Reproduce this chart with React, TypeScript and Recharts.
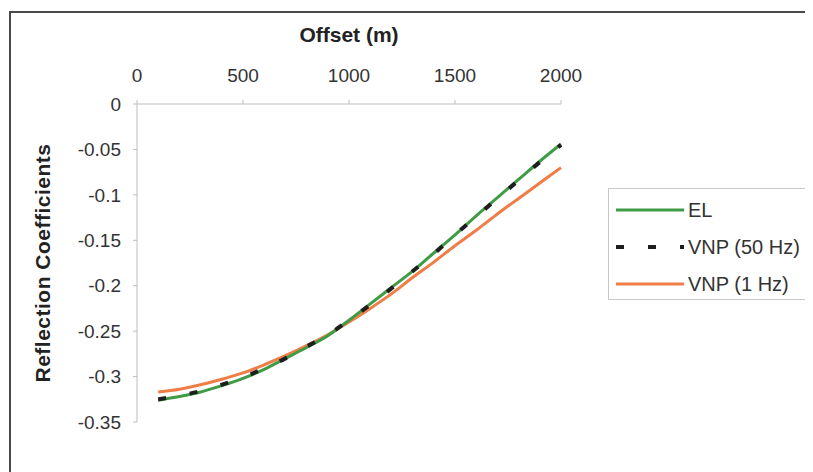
import React from "react";
import { LineChart, Line, XAxis, YAxis } from "recharts";

const offsets = [100, 200, 300, 400, 500, 600, 700, 800, 900, 1000, 1100, 1200, 1300, 1400, 1500, 1600, 1700, 1800, 1900, 2000];
const elValues = [-0.326, -0.322, -0.317, -0.31, -0.302, -0.292, -0.28, -0.268, -0.255, -0.238, -0.22, -0.202, -0.184, -0.164, -0.144, -0.123, -0.103, -0.083, -0.063, -0.044];
const vnp50Values = [-0.325, -0.321, -0.316, -0.309, -0.301, -0.291, -0.28, -0.267, -0.254, -0.238, -0.221, -0.203, -0.184, -0.165, -0.144, -0.124, -0.104, -0.084, -0.064, -0.045];
const vnp1Values = [-0.317, -0.314, -0.309, -0.303, -0.296, -0.287, -0.277, -0.266, -0.254, -0.24, -0.225, -0.209, -0.191, -0.174, -0.156, -0.139, -0.121, -0.104, -0.087, -0.07];
const xTicks = [0, 500, 1000, 1500, 2000];
const yTicks = [0, -0.05, -0.1, -0.15, -0.2, -0.25, -0.3, -0.35];

const series = [
  { key: "el", name: "EL", color: "#3f9b45", width: 3, dash: undefined as string | undefined },
  { key: "vnp50", name: "VNP (50 Hz)", color: "#1e1e1e", width: 4, dash: "8 24" },
  { key: "vnp1", name: "VNP (1 Hz)", color: "#ef7d45", width: 3, dash: undefined as string | undefined },
];

const data = offsets.map((x, i) => ({ x, el: elValues[i], vnp50: vnp50Values[i], vnp1: vnp1Values[i] }));

const FONT = 'Arial, "Liberation Sans", sans-serif';

export default function App() {
  const drawOrder = [series[2], series[0], series[1]];
  return (
    <div style={{ position: "relative", width: 805, height: 464, fontFamily: FONT }}>
      <style>{`html,body{overflow:hidden}`}</style>
      <div
        style={{
          position: "absolute",
          left: 1,
          top: 3,
          width: 820,
          height: 480,
          borderTop: "2px solid #4a4a4a",
          borderLeft: "2px solid #4a4a4a",
        }}
      />
      <div style={{ position: "absolute", left: 0, top: 0 }}>
        <LineChart width={805} height={464} data={data} margin={{ top: 56, right: 252, bottom: 50, left: 69 }}>
          <XAxis
            dataKey="x"
            type="number"
            orientation="top"
            domain={[0, 2000]}
            ticks={xTicks}
            height={40}
            tickSize={4}
            tickMargin={18}
            stroke="#bdbdbd"
            tick={{ fill: "#333", fontSize: 19, fontFamily: FONT }}
            label={{
              value: "Offset (m)",
              position: "top",
              offset: 22,
              style: { fill: "#222", fontSize: 21, fontWeight: 700, fontFamily: FONT },
            }}
          />
          <YAxis
            type="number"
            domain={[-0.35, 0]}
            ticks={yTicks}
            width={60}
            tickSize={4}
            tickMargin={12}
            stroke="#bdbdbd"
            tick={{ fill: "#333", fontSize: 19, fontFamily: FONT }}
            tickFormatter={(v: number) => String(v)}
            label={{
              value: "Reflection Coefficients",
              angle: -90,
              position: "insideLeft",
              offset: -34,
              style: { fill: "#222", fontSize: 21, fontWeight: 700, fontFamily: FONT, textAnchor: "middle", letterSpacing: 0.5 },
            }}
          />
          {drawOrder.map((s) => (
            <Line
              key={s.key}
              dataKey={s.key}
              name={s.name}
              type="monotone"
              stroke={s.color}
              strokeWidth={s.width}
              strokeDasharray={s.dash}
              dot={false}
              isAnimationActive={false}
            />
          ))}
        </LineChart>
      </div>
      <div
        style={{
          position: "absolute",
          left: 600,
          top: 180,
          width: 205,
          height: 112,
          border: "1px solid #c8c8c8",
          borderRight: "none",
          boxSizing: "border-box",
          background: "#fff",
        }}
      >
        {series.map((s, i) => (
          <div
            key={s.key}
            style={{
              position: "absolute",
              left: 7,
              top: 8 + i * 37,
              height: 26,
              display: "flex",
              alignItems: "center",
              whiteSpace: "nowrap",
            }}
          >
            <svg width={68} height={8} style={{ display: "block" }}>
              <line
                x1={0}
                y1={4}
                x2={68}
                y2={4}
                stroke={s.color}
                strokeWidth={s.width}
                strokeDasharray={s.dash}
              />
            </svg>
            <span style={{ marginLeft: 4, fontSize: 20, color: "#333" }}>{s.name}</span>
          </div>
        ))}
      </div>
    </div>
  );
}
